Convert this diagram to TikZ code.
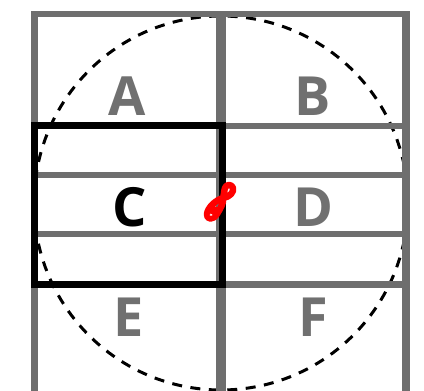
\documentclass[tikz,border=0pt]{standalone}
\usepackage{fontspec}
\setmainfont{Open Sans}
\definecolor{gridgray}{HTML}{6E6E6E}
\definecolor{lettergray}{HTML}{707070}
\begin{document}
\begin{tikzpicture}[x=1pt,y=-1pt,
  gridline/.style={draw=gridgray},
  lbl/.style={font=\fontsize{54}{54}\selectfont\bfseries, text=lettergray, inner sep=0pt, anchor=center},
  scribble/.style={draw=red, line width=6.5pt, line cap=round, line join=round}]
\useasboundingbox (0,0) rectangle (424,391);
\fill[white] (0,0) rectangle (424,391);
% dashed circle
\draw[black, line width=3pt, dash pattern=on 10pt off 8.5pt] (221,203) circle[radius=187];
% grid verticals
\draw[gridline, line width=7pt] (34.5,11) -- (34.5,391);
\draw[gridline, line width=10pt] (221,11) -- (221,391);
\draw[gridline, line width=8pt] (406,11) -- (406,391);
% grid horizontals
\draw[gridline, line width=6pt] (31,14) -- (410,14);
\draw[gridline, line width=6pt] (31,125.5) -- (410,125.5);
\draw[gridline, line width=6pt] (31,175) -- (410,175);
\draw[gridline, line width=6pt] (31,233.5) -- (410,233.5);
\draw[gridline, line width=7pt] (31,284) -- (410,284);
% black rectangle
\draw[black, line width=7pt] (34.5,125.5) rectangle (222,284);
% letters
\node[lbl] (A) at (127,96) {A};
\node[lbl] (B) at (313,96) {B};
\node[lbl, text=black] (C) at (130,207) {C};
\node[lbl] (D) at (313,207) {D};
\node[lbl] (E) at (129,317) {E};
\node[lbl] (F) at (313,317) {F};
% red scribble
\draw[scribble] (223,198) .. controls (230,197) and (234,192) .. (233,188)
  .. controls (232,184) and (226,184) .. (225,188)
  .. controls (224,191) and (224,195) .. (223,198)
  .. controls (216,200) and (208,207) .. (207,214)
  .. controls (206,220) and (214,220) .. (217,214)
  .. controls (220,209) and (224,203) .. (223,198);
\fill[red] (213,210) ellipse[x radius=6, y radius=4];
\fill[white] (211,215) ellipse[x radius=1.5, y radius=0.8];
\end{tikzpicture}
\end{document}
